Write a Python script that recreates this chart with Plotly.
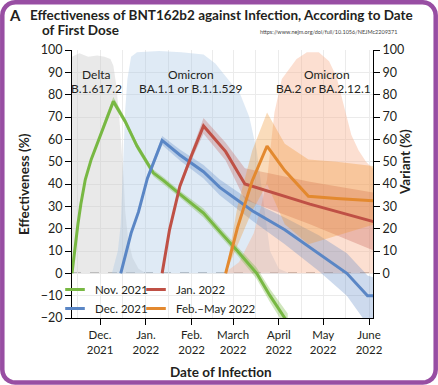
import math
import plotly.graph_objects as go

# ---------------- data ----------------
month_ticks = ["2021-12-01", "2022-01-01", "2022-02-01", "2022-03-01",
               "2022-04-01", "2022-05-01", "2022-06-01"]
month_labels = ["Dec.<br>2021", "Jan.<br>2022", "Feb.<br>2022", "March<br>2022",
                "April<br>2022", "May<br>2022", "June<br>2022"]
mid_month_grid = ["2021-11-16", "2021-12-16", "2022-01-16", "2022-02-15",
                  "2022-03-16", "2022-04-16", "2022-05-16"]
eff_ticks = [-20, -10, 0, 10, 20, 30, 40, 50, 60, 70, 80, 90, 100]
var_ticks = [0, 10, 20, 30, 40, 50, 60, 70, 80, 90, 100]

# variant share (%)
delta_dates = ["2021-11-12", "2021-11-17", "2021-11-23", "2021-11-29", "2021-12-04",
               "2021-12-08", "2021-12-10", "2021-12-12", "2021-12-14", "2021-12-15 12:00",
               "2021-12-17", "2021-12-18", "2021-12-20", "2021-12-23", "2021-12-27",
               "2022-01-01"]
delta_share = [97, 98.5, 97, 97.5, 97, 96, 93, 84, 70, 57, 42, 28, 15, 7, 2, 0]

ba1_dates = ["2021-12-09", "2021-12-13", "2021-12-15", "2021-12-16", "2021-12-17",
             "2021-12-18", "2021-12-19 12:00", "2021-12-22", "2021-12-26", "2022-01-10",
             "2022-01-25", "2022-02-09", "2022-02-17", "2022-02-27", "2022-03-06",
             "2022-03-12", "2022-03-17", "2022-03-20", "2022-03-23", "2022-03-26",
             "2022-04-01", "2022-04-08"]
ba1_share = [0, 10, 22, 40, 57, 73, 87, 97, 99, 99.5, 99, 98, 94, 86, 80,
             70, 55, 40, 25, 10, 2, 0]

ba2_dates = ["2022-02-23", "2022-03-05", "2022-03-15", "2022-03-20", "2022-03-24",
             "2022-03-29", "2022-04-03", "2022-04-13", "2022-04-20", "2022-04-28",
             "2022-05-05", "2022-05-10", "2022-05-15", "2022-05-20", "2022-05-25",
             "2022-05-30", "2022-06-05"]
ba2_share = [0, 5, 18, 30, 42, 72, 87, 96, 99, 99, 95, 88, 75, 62, 55, 50, 46]

# vaccine effectiveness (%) by month of first dose, with 95% CI
nov_dates = ["2021-11-12", "2021-11-14", "2021-11-16", "2021-11-18", "2021-11-21",
             "2021-11-25", "2021-11-29", "2021-12-05", "2021-12-10", "2021-12-18",
             "2021-12-26", "2022-01-06", "2022-01-13", "2022-01-24", "2022-02-09",
             "2022-02-21", "2022-03-04", "2022-03-17", "2022-03-26", "2022-04-05",
             "2022-04-07"]
nov_eff = [0, 12, 22, 31, 42, 51, 58, 69, 77, 68, 57, 45, 41.5, 35.5, 27, 18, 10, 0,
           -10, -20, -22]
nov_lo = [0, 11, 21, 30, 41, 50, 57, 67.5, 75.5, 66.5, 55.5, 43.5, 40, 34, 25, 16, 8,
          -2.5, -13, -23.5, -26]
nov_hi = [0, 13, 23, 32, 43, 52, 59, 70.5, 79, 69.5, 58.5, 46.5, 43, 37, 29, 20, 12,
          2.5, -7, -16.5, -18]

dec_dates = ["2021-12-15", "2021-12-22", "2021-12-27", "2022-01-02", "2022-01-07",
             "2022-01-12", "2022-01-24", "2022-02-09", "2022-02-20", "2022-03-14",
             "2022-04-05", "2022-04-28", "2022-05-17", "2022-05-31", "2022-06-05"]
dec_eff = [0, 18, 27.5, 42.5, 51, 59.5, 53, 45.5, 38.5, 28, 19.5, 9, 0, -10, -10]
dec_lo = [0, 17, 26.5, 41, 49.5, 57.5, 50.5, 42.5, 35, 23.5, 13, 1, -10, -23, -24]
dec_hi = [0, 19, 28.5, 44, 52.5, 61.5, 55.5, 48.5, 42, 32, 25, 17, 9, -1, -2]

jan_dates = ["2022-01-12", "2022-01-17", "2022-01-24", "2022-02-01", "2022-02-09",
             "2022-02-24", "2022-03-09", "2022-04-22", "2022-06-05"]
jan_eff = [0, 19.5, 39, 53, 66, 54.5, 40, 31, 23]
jan_lo = [0, 18.5, 37.5, 51, 62.5, 50.5, 33, 22, 10]
jan_hi = [0, 20.5, 40.5, 55, 69.5, 58.5, 47, 41, 36]

feb_dates = ["2022-02-24", "2022-03-04", "2022-03-14", "2022-03-24", "2022-04-05",
             "2022-04-21", "2022-05-10", "2022-06-05"]
feb_eff = [0, 20.5, 41.5, 57, 46, 34.5, 33.5, 32.5]
feb_lo = [0, 12, 28, 40, 22, 13, 17, 22]
feb_hi = [0, 30, 55, 72, 58, 51, 50, 48]

# ---------------- styling ----------------
W, H = 438, 385
PL, PR, PT, PB = 72, 373, 50, 318          # plot box in pixels


def fx(px):
    return (px - PL) / (PR - PL)


def fy(py):
    return (PB - py) / (PB - PT)


FONT = "Lato, 'Noto Sans', sans-serif"
TXT = "#231f20"
GREEN, BLUE, RED, ORANGE = "#78b843", "#5a86c5", "#bf5045", "#e3892f"

fig = go.Figure()

# variant areas
for dts, vals, col in [(delta_dates, delta_share, "rgba(200,200,200,0.40)"),
                       (ba1_dates, ba1_share, "rgba(170,200,228,0.38)"),
                       (ba2_dates, ba2_share, "rgba(248,175,140,0.40)")]:
    fig.add_trace(go.Scatter(x=dts, y=vals, mode="lines", line=dict(width=0),
                             fill="tozeroy", fillcolor=col, showlegend=False,
                             hoverinfo="skip"))

series = [
    ("Nov. 2021", nov_dates, nov_eff, nov_lo, nov_hi, GREEN, "rgba(120,184,67,0.35)"),
    ("Dec. 2021", dec_dates, dec_eff, dec_lo, dec_hi, BLUE, "rgba(90,134,197,0.30)"),
    ("Jan. 2022", jan_dates, jan_eff, jan_lo, jan_hi, RED, "rgba(191,80,69,0.28)"),
    ("Feb.\u2013May 2022", feb_dates, feb_eff, feb_lo, feb_hi, ORANGE, "rgba(240,150,50,0.33)"),
]

# confidence bands
for name, dts, eff, lo, hi, col, band in series:
    fig.add_trace(go.Scatter(x=list(dts) + list(dts)[::-1], y=list(hi) + list(lo)[::-1],
                             mode="lines", line=dict(width=0), fill="toself",
                             fillcolor=band, showlegend=False, hoverinfo="skip"))
# lines
for name, dts, eff, lo, hi, col, band in series:
    fig.add_trace(go.Scatter(x=dts, y=eff, mode="lines", name=name,
                             line=dict(color=col, width=3), showlegend=False))

# legend entries (short dashes)
legend_of = {"Nov. 2021": "legend", "Dec. 2021": "legend",
             "Jan. 2022": "legend2", "Feb.\u2013May 2022": "legend2"}
for name, dts, eff, lo, hi, col, band in series:
    fig.add_trace(go.Scatter(x=[None], y=[None], mode="markers", name=name,
                             yaxis="y2", legend=legend_of[name],
                             marker=dict(symbol="line-ew", size=14,
                                         line=dict(color=col, width=3))))

# zero reference line
fig.add_shape(type="line", xref="paper", x0=0, x1=1, yref="y", y0=0, y1=0,
              line=dict(color="#6e6e6e", width=1.5, dash="dash"), layer="below")

# rounded purple frame (polyline)
bx0, by0, bx1, by1, rad = 2.3, 2.3, 435.7, 382.6, 13
corners = [(bx1 - rad, by0 + rad, -90), (bx1 - rad, by1 - rad, 0),
           (bx0 + rad, by1 - rad, 90), (bx0 + rad, by0 + rad, 180)]
pts = []
for cx, cy, a0 in corners:
    for k in range(7):
        a = math.radians(a0 + 15 * k)
        pts.append((cx + rad * math.cos(a), cy + rad * math.sin(a)))
frame = "M" + " L".join(f"{fx(px):.5f},{fy(py):.5f}" for px, py in pts) + " Z"
fig.add_shape(type="path", xref="paper", yref="paper", path=frame,
              line=dict(color="#984ea3", width=4.5), layer="above")

ann = []


def add_text(text, px, py, size, bold=False, xanchor="center", angle=0, color=TXT):
    ann.append(dict(text=f"<b>{text}</b>" if bold else text, xref="paper", yref="paper",
                    x=fx(px), y=fy(py), xanchor=xanchor, yanchor="middle",
                    showarrow=False, textangle=angle,
                    font=dict(family=FONT, size=size, color=color)))


add_text("A", 6.5, 14.5, 15, bold=True, xanchor="left")
add_text("Effectiveness of BNT162b2 against Infection, According to Date", 28, 14.5,
         13.5, bold=True, xanchor="left")
add_text("of First Dose", 39.5, 30, 13.5, bold=True, xanchor="left")
add_text("https://www.nejm.org/doi/full/10.1056/NEJMc2209371", 258, 32, 5.5,
         xanchor="left", color="#444")
add_text("Delta", 96.7, 74, 12)
add_text("B.1.617.2", 96.7, 88.3, 12)
add_text("Omicron", 191, 74, 12)
add_text("BA.1.1 or B.1.1.529", 191, 88.3, 12)
add_text("Omicron", 326.7, 74, 12)
add_text("BA.2 or BA.2.12.1", 323.5, 88.3, 12)
add_text("Effectiveness (%)", 24, 184, 13.5, bold=True, angle=-90)
add_text("Variant (%)", 405, 162, 13.5, bold=True, angle=-90)
add_text("Date of Infection", 221, 372, 13.5, bold=True)

GRID = "#ebebeb"
fig.update_layout(
    width=W, height=H, autosize=False,
    margin=dict(l=PL, r=W - PR, t=PT, b=H - PB, pad=0),
    paper_bgcolor="white", plot_bgcolor="white",
    font=dict(family=FONT, color=TXT),
    annotations=ann,
    xaxis=dict(type="date", range=["2021-11-12", "2022-06-03 17:00"],
               tickmode="array", tickvals=month_ticks, ticktext=month_labels,
               showgrid=True, gridcolor=GRID, gridwidth=1,
               minor=dict(tickmode="array", tickvals=mid_month_grid, showgrid=True,
                          gridcolor=GRID, gridwidth=1, ticks=""),
               showline=True, linecolor="black", linewidth=1.2,
               ticks="outside", ticklen=6, tickcolor="black", tickwidth=1.2,
               tickfont=dict(size=11.5, family=FONT, color=TXT), zeroline=False),
    yaxis=dict(range=[-20, 100], tickmode="array", tickvals=eff_ticks,
               ticktext=[str(v).replace("-", "\u2212") for v in eff_ticks],
               showgrid=True, gridcolor=GRID, gridwidth=1, zeroline=False,
               showline=True, linecolor="black", linewidth=1.2,
               ticks="outside", ticklen=6, tickcolor="black", tickwidth=1.2,
               tickfont=dict(size=12.5, family=FONT, color=TXT)),
    yaxis2=dict(range=[-20, 100], overlaying="y", side="right", tickmode="array",
                tickvals=var_ticks, showgrid=False, zeroline=False,
                showline=True, linecolor="black", linewidth=1.2,
                ticks="outside", ticklen=6, tickcolor="black", tickwidth=1.2,
                tickfont=dict(size=12.5, family=FONT, color=TXT)),
    legend=dict(x=fx(55), y=fy(275), xanchor="left", yanchor="top",
                bgcolor="rgba(0,0,0,0)", borderwidth=0, itemwidth=30,
                font=dict(size=11.5, family=FONT, color=TXT), tracegroupgap=0),
    legend2=dict(x=fx(136), y=fy(275), xanchor="left", yanchor="top",
                 bgcolor="rgba(0,0,0,0)", borderwidth=0, itemwidth=30,
                 font=dict(size=11.5, family=FONT, color=TXT), tracegroupgap=0),
)

fig.write_html("out.html", config={"displayModeBar": False},
               post_script="document.body.style.margin='0px';")
